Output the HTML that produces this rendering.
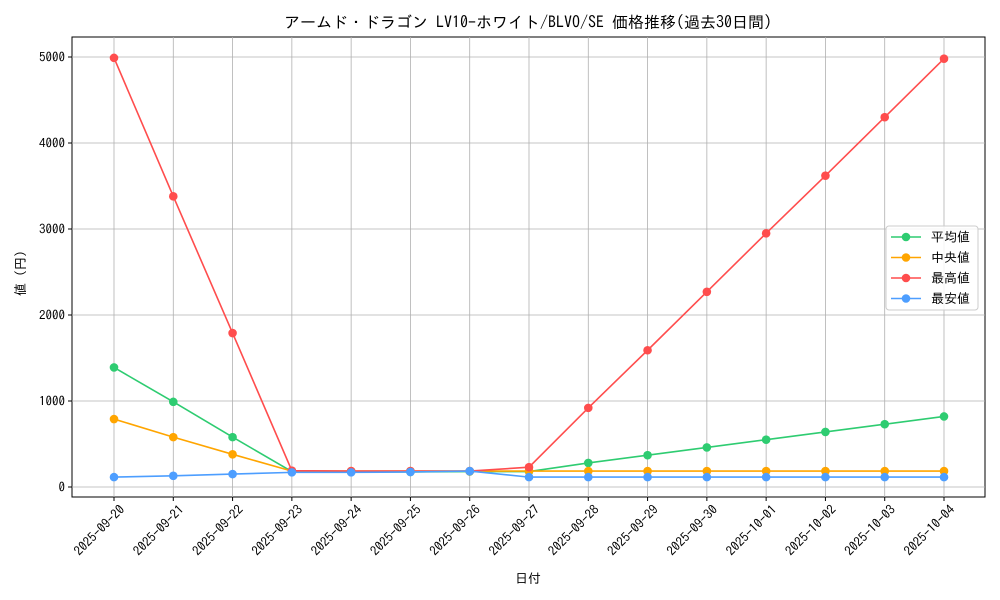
<!DOCTYPE html>
<html><head><meta charset="utf-8"><style>body{margin:0;background:#fff}svg{display:block}text{font-family:"IPAGothic","Noto Sans CJK JP",sans-serif;fill:#000}</style></head>
<body><svg id="s" width="1000" height="600" xmlns="http://www.w3.org/2000/svg"></svg>
<script>
const s=document.getElementById('s');let h='';
const L=72,R=985,T=37,B=497;
const X=i=>114+i*(944-114)/14, Y=v=>487-v*0.086;
h+=`<rect x="${L}" y="${T}" width="${R-L}" height="${B-T}" fill="#fff" stroke="#000" stroke-width="1"/>`;
const dates=['09-20','09-21','09-22','09-23','09-24','09-25','09-26','09-27','09-28','09-29','09-30','10-01','10-02','10-03','10-04'];
dates.forEach((d,i)=>{const x=X(i);h+=`<line x1="${x}" y1="${T}" x2="${x}" y2="${B}" stroke="#b0b0b0" stroke-width="0.8"/><line x1="${x}" y1="${B}" x2="${x}" y2="${B+4}" stroke="#000"/><text transform="translate(${x+5},${B+7}) rotate(-45)" text-anchor="end" font-size="13" dy="0.7em">2025-${d}</text>`;});
[0,1000,2000,3000,4000,5000].forEach(v=>{const y=Y(v);h+=`<line x1="${L}" y1="${y}" x2="${R}" y2="${y}" stroke="#b0b0b0" stroke-width="0.8"/><line x1="${L-4}" y1="${y}" x2="${L}" y2="${y}" stroke="#000"/><text x="${L-7}" y="${y+4.5}" text-anchor="end" font-size="13">${v}</text>`;});
const S=[
['#2ecc71',[1390,990,580,180,175,175,180,180,280,370,460,550,640,730,820]],
['#ffa500',[790,580,380,185,185,185,185,185,185,185,185,185,185,185,185]],
['#ff4d4d',[4990,3380,1790,190,185,185,185,230,920,1590,2270,2950,3620,4300,4980]],
['#4d9eff',[115,130,150,170,170,175,185,115,115,115,115,115,115,115,115]]];
S.forEach(([c,d])=>{h+=`<polyline fill="none" stroke="${c}" stroke-width="1.6" points="${d.map((v,i)=>X(i)+','+Y(v)).join(' ')}"/>`;d.forEach((v,i)=>h+=`<circle cx="${X(i)}" cy="${Y(v)}" r="4.3" fill="${c}"/>`);});
h+=`<rect x="886" y="226" width="92" height="84" rx="3" fill="#fff" fill-opacity="0.85" stroke="#ccc"/>`;
const names=['平均値','中央値','最高値','最安値'];
S.forEach(([c],i)=>{const y=237+i*20.5;h+=`<line x1="891" y1="${y}" x2="921" y2="${y}" stroke="${c}" stroke-width="1.6"/><circle cx="906" cy="${y}" r="4.3" fill="${c}"/><text x="931" y="${y+4.5}" font-size="13">${names[i]}</text>`;});
h+=`<text x="528" y="28" text-anchor="middle" font-size="16">アームド・ドラゴン LV10-ホワイト/BLVO/SE 価格推移(過去30日間)</text>`;
h+=`<text x="528" y="583" text-anchor="middle" font-size="13">日付</text>`;
h+=`<text transform="translate(25,270) rotate(-90)" text-anchor="middle" font-size="13">値（円）</text>`;
s.innerHTML=h;
</script></body></html>
